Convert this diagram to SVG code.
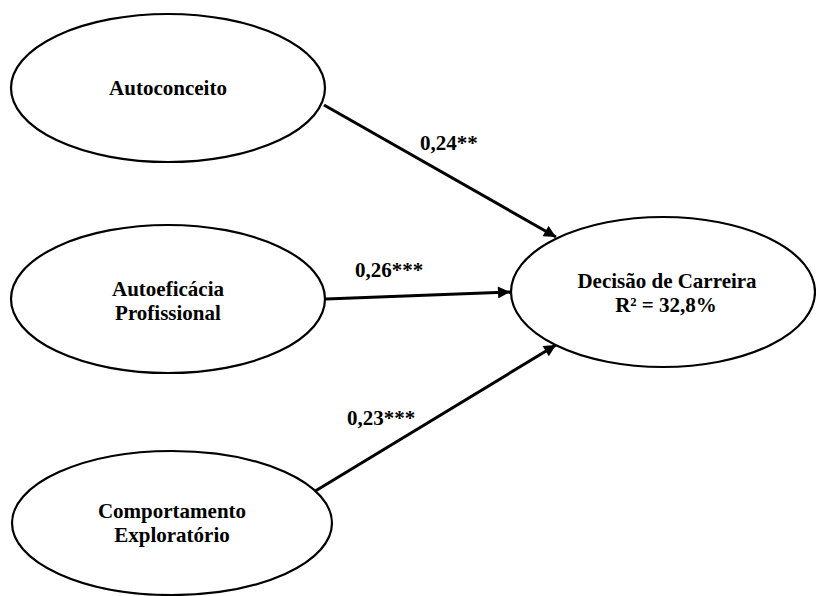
<svg xmlns="http://www.w3.org/2000/svg" width="816" height="596" viewBox="0 0 816 596">
<style>
.n{fill:#fff;stroke:#000;stroke-width:2.2}
.t{font-family:"Liberation Serif","Times New Roman",serif;font-weight:bold;font-size:21px;fill:#000;text-anchor:middle}
.l{font-family:"Liberation Serif","Times New Roman",serif;font-weight:bold;font-size:21px;fill:#000}
.c{stroke:#000;stroke-width:3;fill:none;marker-end:url(#ah)}
</style>
<defs>
<marker id="ah" viewBox="0 0 10 10" refX="10" refY="5" markerWidth="4.5" markerHeight="4" orient="auto" markerUnits="strokeWidth">
<path d="M0,0 L10,5 L0,10 z" fill="#000"/>
</marker>
</defs>
<rect width="816" height="596" fill="#fff"/>
<g id="connectors">
<line class="c" x1="324" y1="105" x2="556" y2="237"/>
<line class="c" x1="326" y1="299" x2="510" y2="292"/>
<line class="c" x1="312" y1="493" x2="556" y2="345"/>
<text class="l" x="420" y="150">0,24**</text>
<text class="l" x="355" y="277">0,26***</text>
<text class="l" x="347" y="425">0,23***</text>
</g>
<g id="autoconceito">
<ellipse class="n" cx="168" cy="88" rx="157" ry="74"/>
<text class="t" x="168" y="95">Autoconceito</text>
</g>
<g id="autoeficacia">
<ellipse class="n" cx="168" cy="299" rx="157" ry="74"/>
<text class="t" x="168" y="296">Autoeficácia</text>
<text class="t" x="168" y="320">Profissional</text>
</g>
<g id="comportamento">
<ellipse class="n" cx="172" cy="523" rx="160" ry="72"/>
<text class="t" x="172" y="518">Comportamento</text>
<text class="t" x="172" y="542">Exploratório</text>
</g>
<g id="decisao">
<ellipse class="n" cx="663" cy="292" rx="152" ry="75"/>
<text class="t" x="667" y="288">Decisão de Carreira</text>
<text class="t" x="666" y="312">R² = 32,8%</text>
</g>
</svg>
